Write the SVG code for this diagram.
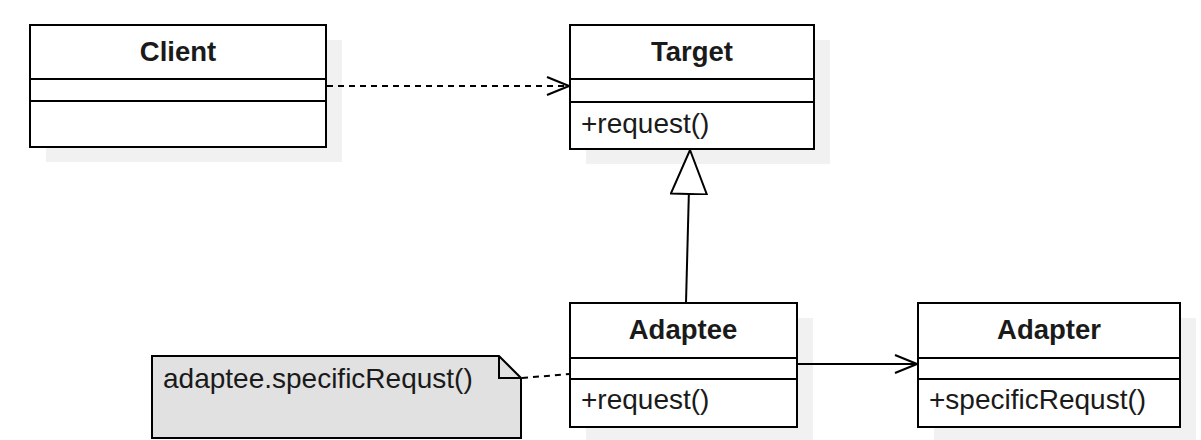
<svg xmlns="http://www.w3.org/2000/svg" width="1201" height="440" viewBox="0 0 1201 440">
<style>
.box{fill:#ffffff;stroke:#000000;stroke-width:2}
.shadow{fill:#f1f1f1;stroke:none}
.div{stroke:#000000;stroke-width:2}
.title{font-family:"Liberation Sans",Arial,sans-serif;font-size:27.5px;font-weight:bold;fill:#1a1a1a;text-anchor:middle}
.member{font-family:"Liberation Sans",Arial,sans-serif;font-size:28px;fill:#1a1a1a}
.edge{fill:none;stroke:#000000;stroke-width:2}
.dash{stroke-dasharray:6 5}
</style>
<defs>
<marker id="open" viewBox="0 0 24 20" refX="23" refY="10" markerWidth="24" markerHeight="20" markerUnits="userSpaceOnUse" orient="auto">
<path d="M1,1 L23,10 L1,19" fill="none" stroke="#000" stroke-width="2"/>
</marker>
<marker id="tri" viewBox="0 0 46 38" refX="45" refY="19" markerWidth="46" markerHeight="38" markerUnits="userSpaceOnUse" orient="auto">
<path d="M1,1 L45,19 L1,37 Z" fill="#fff" stroke="#000" stroke-width="2"/>
</marker>
</defs>
<rect width="1201" height="440" fill="#ffffff"/>
<g id="Client">
<rect class="shadow" x="46" y="40" width="296" height="122"/>
<rect class="box" x="30" y="25" width="296" height="122"/>
<line class="div" x1="30" y1="79" x2="326" y2="79"/>
<line class="div" x1="30" y1="101" x2="326" y2="101"/>
<text class="title" x="178" y="61">Client</text>
</g>
<g id="Target">
<rect class="shadow" x="586" y="40" width="244" height="124"/>
<rect class="box" x="570" y="25" width="244" height="124"/>
<line class="div" x1="570" y1="79" x2="814" y2="79"/>
<line class="div" x1="570" y1="102" x2="814" y2="102"/>
<text class="title" x="692" y="61">Target</text>
<text class="member" x="581" y="133">+request()</text>
</g>
<g id="Adaptee">
<rect class="shadow" x="586" y="318" width="227" height="124"/>
<rect class="box" x="570" y="303" width="227" height="124"/>
<line class="div" x1="570" y1="358" x2="797" y2="358"/>
<line class="div" x1="570" y1="379" x2="797" y2="379"/>
<text class="title" x="683" y="339">Adaptee</text>
<text class="member" x="581" y="409">+request()</text>
</g>
<g id="Adapter">
<rect class="shadow" x="934" y="318" width="262" height="124"/>
<rect class="box" x="918" y="303" width="262" height="124"/>
<line class="div" x1="918" y1="358" x2="1180" y2="358"/>
<line class="div" x1="918" y1="379" x2="1180" y2="379"/>
<text class="title" x="1049" y="339">Adapter</text>
<text class="member" x="929" y="409">+specificRequst()</text>
</g>
<g id="Note">
<path d="M152,356 L499,356 L521,378 L521,438 L152,438 Z" fill="#e1e1e1" stroke="#000" stroke-width="2"/>
<path d="M499,356 L499,378 L521,378" fill="none" stroke="#000" stroke-width="2"/>
<text class="member" x="163" y="388">adaptee.specificRequst()</text>
</g>
<g id="connectors">
<line class="edge dash" x1="327" y1="86" x2="569" y2="86" marker-end="url(#open)"/>
<line class="edge" x1="686" y1="303" x2="690" y2="150" marker-end="url(#tri)"/>
<line class="edge" x1="797" y1="364" x2="917" y2="364" marker-end="url(#open)"/>
<line class="edge dash" x1="522" y1="378" x2="570" y2="374"/>
</g>
</svg>
